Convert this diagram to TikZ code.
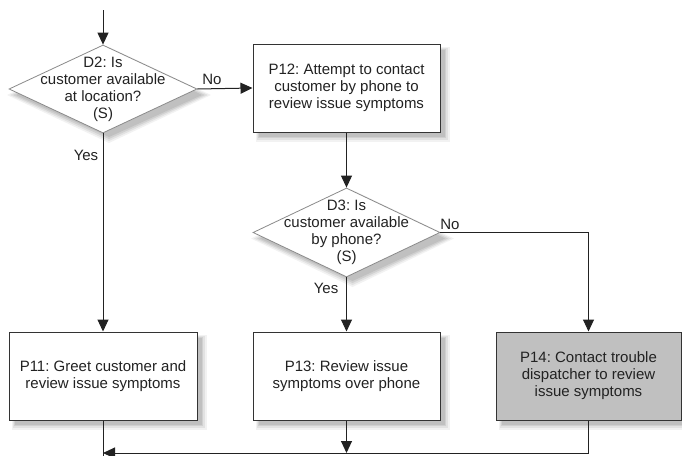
\documentclass[tikz,border=0pt]{standalone}
\usepackage{fontspec}
\setmainfont{Liberation Sans}
\frenchspacing
\usetikzlibrary{shapes.geometric,arrows.meta}
\definecolor{boxline}{HTML}{333333}
\definecolor{dialine}{HTML}{8A8A8A}
\definecolor{txt}{HTML}{222222}
\definecolor{grayfill}{HTML}{C0C0C0}
\definecolor{sha}{HTML}{F2F2F2}
\definecolor{shb}{HTML}{E2E2E2}
\definecolor{shc}{HTML}{D0D0D0}
\definecolor{shd}{HTML}{C0C0C0}
\tikzset{
  procbox/.style={shape=rectangle, draw=boxline, line width=1pt, fill=white, minimum width=187pt, minimum height=88pt, inner sep=0pt},
  dia/.style={shape=diamond, draw=dialine, line width=0.8pt, fill=white, minimum width=188pt, minimum height=88pt, inner sep=0pt},
  ttext/.style={align=center, text=txt, font=\fontsize{15}{17}\selectfont, inner sep=0pt},
  lbl/.style={text=txt, font=\fontsize{15}{17}\selectfont, inner sep=0pt},
  conn/.style={draw=txt, line width=1pt},
  arr/.style={conn, -{Triangle[length=12pt,width=11pt]}}
}
\begin{document}
\begin{tikzpicture}[x=1pt,y=-1pt]
\useasboundingbox (0,0) rectangle (682,455);
% ---- shadows (nested greys, drawn before the shapes) ----
% P12
\fill[sha] (256,47) rectangle (450,142);
\fill[shb] (257,48) rectangle (448,140);
\fill[shc] (258,49) rectangle (446,138);
\fill[shd] (259,50) rectangle (445,137);
% P11
\fill[sha] (12,335) rectangle (207,430);
\fill[shb] (13,336) rectangle (205,428);
\fill[shc] (14,337) rectangle (203,426);
\fill[shd] (15,338) rectangle (202,425);
% P13
\fill[sha] (256,335) rectangle (450,430);
\fill[shb] (257,336) rectangle (448,428);
\fill[shc] (258,337) rectangle (446,426);
\fill[shd] (259,338) rectangle (445,425);
% P14
\fill[sha] (499,335) rectangle (682,430);
\fill[shb] (500,336) rectangle (682,428);
\fill[shc] (501,337) rectangle (682,426);
\fill[shd] (502,338) rectangle (682,425);
% D2 (centre 103,89)
\fill[sha] (109,47) -- (211,95) -- (109,143) -- (7,95) -- cycle;
\fill[shb] (109,48) -- (208,95) -- (109,141) -- (10,95) -- cycle;
\fill[shc] (109,49) -- (205,95) -- (109,139) -- (13,95) -- cycle;
\fill[shd] (109,50) -- (202,95) -- (109,137) -- (16,95) -- cycle;
% D3 (centre 346.5,232.5)
\fill[sha] (352.5,190) -- (454,238.5) -- (352.5,287) -- (251,238.5) -- cycle;
\fill[shb] (352.5,191) -- (451,238.5) -- (352.5,285) -- (254,238.5) -- cycle;
\fill[shc] (352.5,192) -- (448,238.5) -- (352.5,283) -- (257,238.5) -- cycle;
\fill[shd] (352.5,193) -- (445,238.5) -- (352.5,281) -- (260,238.5) -- cycle;
% ---- nodes ----
\node[dia] (d2) at (103,89) {};
\node[ttext] (d2t) at (d2.center) {D2: Is\\customer available\\at location?\\(S)};
\node[procbox] (p12) at (346.5,88) {};
\node[ttext] (p12t) at (p12.center) {P12: Attempt to contact\\customer by phone to\\review issue symptoms};
\node[dia, minimum width=187pt, minimum height=89pt] (d3) at (346.5,232.5) {};
\node[ttext] (d3t) at (d3.center) {D3: Is\\customer available\\by phone?\\(S)};
\node[procbox, minimum width=188pt] (p11) at (103,376) {};
\node[ttext] (p11t) at (p11.center) {P11: Greet customer and\\review issue symptoms};
\node[procbox] (p13) at (346.5,376) {};
\node[ttext] (p13t) at (p13.center) {P13: Review issue\\symptoms over phone};
\node[procbox, fill=grayfill, minimum width=185pt] (p14) at (588.5,376) {};
\node[ttext] (p14t) at (p14.center) {P14: Contact trouble\\dispatcher to review\\issue symptoms};
% labels
\node[lbl] (no1) at (212,79) {No};
\node[lbl] (yes1) at (86,155) {Yes};
\node[lbl] (no2) at (450,224) {No};
\node[lbl] (yes2) at (326,288) {Yes};
% coordinates
\coordinate (start) at (103,10);
\coordinate (merge) at (103,453);
\coordinate (bot1) at (103,458);
\coordinate (m13) at (346.5,453);
% connectors
\draw[arr] (start) -- (d2.north);
\draw[arr] (d2.east) -- (p12.west);
\draw[arr] (d2.south) -- (p11.north);
\draw[arr] (p12.south) -- (d3.north);
\draw[arr] (d3.east) -| (p14.north);
\draw[arr] (d3.south) -- (p13.north);
\draw[conn] (p11.south) -- (bot1);
\draw[arr] (p13.south) -- (m13);
\draw[arr] (p14.south) |- (merge);
\end{tikzpicture}
\end{document}
